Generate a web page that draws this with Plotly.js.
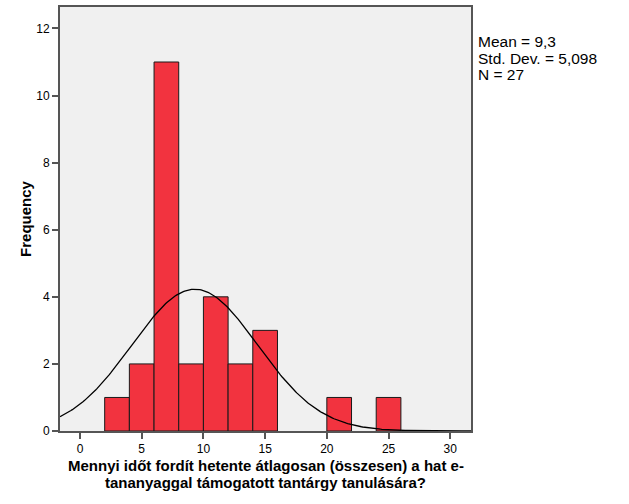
<!DOCTYPE html>
<html><head><meta charset="utf-8">
<script src="https://cdn.plot.ly/plotly-3.0.1.min.js"></script>
<style>html,body{margin:0;padding:0;background:#fff;}#chart{width:629px;height:504px;}</style>
</head><body><div id="chart"></div>
<script>
// Histogram bins (start of each bin, bin width 2) and frequencies
var binStarts = [2, 4, 6, 8, 10, 12, 14, 20, 24];
var counts    = [1, 2, 11, 2, 4, 2, 3, 1, 1];
var binWidth = 2;
// Summary statistics shown on the chart
var statMean = 9.3;
var statSD = 5.098;
var statN = 27;
var statLabels = ["Mean = 9,3", "Std. Dev. = 5,098", "N = 27"];
var xTitleLines = ["Mennyi időt fordít hetente átlagosan (összesen) a hat e-",
                   "tananyaggal támogatott tantárgy tanulására?"];
var yTitle = "Frequency";
var xTicks = [0, 5, 10, 15, 20, 25, 30];
var yTicks = [0, 2, 4, 6, 8, 10, 12];

var xRange = [-1.62, 31.68];
var yRange = [0, 12.64];

var centers = binStarts.map(function(s){ return s + binWidth/2; });

// Fitted normal curve from the stated mean / SD / N
var cx = [], cy = [];
var steps = 300;
for (var i = 0; i <= steps; i++) {
  var x = xRange[0] + (xRange[1]-xRange[0]) * i/steps;
  var z = (x - statMean)/statSD;
  cx.push(x);
  cy.push(statN*binWidth/(statSD*Math.sqrt(2*Math.PI))*Math.exp(-0.5*z*z));
}

var traces = [
  {type:'bar', x:centers, y:counts, width:binWidth,
   marker:{color:'#f2333f', line:{color:'#1a1a1a', width:1}}, hoverinfo:'skip'},
  {type:'scatter', mode:'lines', x:cx, y:cy, line:{color:'#000', width:1.3}, hoverinfo:'skip'}
];

var fam = 'Liberation Sans, Arial, sans-serif';
var font = {family:fam, size:12, color:'#000'};
var plotTop = 7, plotH = 424;
function paperY(py){ return 1 - (py - plotTop)/plotH; }

var annotations = statLabels.map(function(t, i){
  return {text:t, xref:'paper', yref:'paper', x:1.013, y:paperY(42 + i*16.2), xanchor:'left', yanchor:'middle',
          showarrow:false, font:{family:fam, size:15.5, color:'#000'}, align:'left'};
});
xTitleLines.forEach(function(t, i){
  annotations.push({text:'<b>'+t+'</b>', xref:'paper', yref:'paper', x:0.5, y:paperY(465 + i*17.5),
    xanchor:'center', yanchor:'middle', showarrow:false, borderpad:0, font:{family:fam, size:15, color:'#000'}});
});

var layout = {
  width:629, height:504,
  margin:{l:60, r:158, t:plotTop, b:73, pad:0},
  paper_bgcolor:'#fff', plot_bgcolor:'#f0f0f0',
  showlegend:false, font:font, bargap:0,
  xaxis:{range:xRange, tickvals:xTicks, ticks:'outside', ticklen:6, tickwidth:2, tickcolor:'#555',
         showgrid:false, zeroline:false, showline:true, linecolor:'#555', linewidth:2, mirror:true,
         tickfont:{family:fam, size:12, color:'#000'}},
  yaxis:{range:yRange, tickvals:yTicks, ticks:'outside', ticklen:6, tickwidth:2, tickcolor:'#555',
         showgrid:false, zeroline:false, showline:true, linecolor:'#555', linewidth:2, mirror:true,
         tickfont:{family:fam, size:12, color:'#000'},
         title:{text:'<b>'+yTitle+'</b>', font:{family:fam, size:15, color:'#000'}, standoff:1}},
  annotations:annotations
};

Plotly.newPlot('chart', traces, layout, {displayModeBar:false, staticPlot:true});
</script></body></html>
